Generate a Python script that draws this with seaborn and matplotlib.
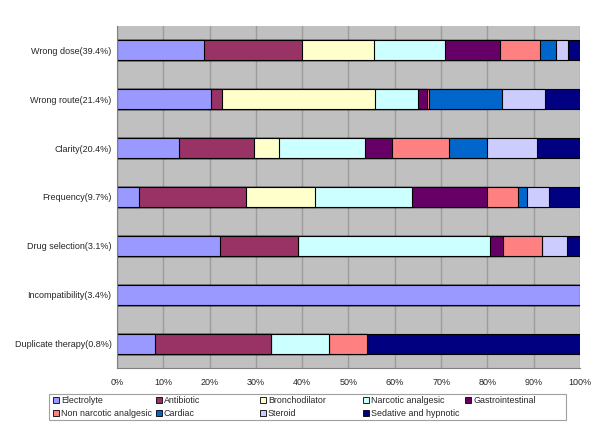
import matplotlib
matplotlib.use("Agg")
import matplotlib.pyplot as plt
import seaborn as sns
import pandas as pd
import numpy as np
from matplotlib.ticker import FixedLocator, FuncFormatter
from matplotlib.patches import Patch, Rectangle

categories = ["Wrong dose(39.4%)", "Wrong route(21.4%)", "Clarity(20.4%)",
              "Frequency(9.7%)", "Drug selection(3.1%)", "Incompatibility(3.4%)",
              "Duplicate therapy(0.8%)"]
classes = ["Electrolyte", "Antibiotic", "Bronchodilator", "Narcotic analgesic",
           "Gastrointestinal", "Non narcotic analgesic", "Cardiac", "Steroid",
           "Sedative and hypnotic"]

electrolyte = [18.8, 20.2, 13.4, 4.8, 22.2, 100, 8.3]
antibiotic = [21.1, 2.4, 16.2, 23.0, 16.8, 0, 25.0]
bronchodilator = [15.5, 33.1, 5.4, 14.9, 0, 0, 0]
narcotic = [15.5, 9.3, 18.6, 21.0, 41.6, 0, 12.5]
gastro = [11.9, 1.9, 5.9, 16.3, 2.8, 0, 0]
non_narcotic = [8.5, 0.5, 12.1, 6.6, 8.3, 0, 8.3]
cardiac = [3.6, 15.8, 8.4, 2.0, 0, 0, 0]
steroid = [2.6, 9.2, 10.7, 4.7, 5.6, 0, 0]
sedative = [2.5, 7.6, 9.3, 6.7, 2.7, 0, 45.9]

colors = ["#9999FF", "#993366", "#FFFFCC", "#CCFFFF", "#660066",
          "#FF8080", "#0066CC", "#CCCCFF", "#000080"]

series = [electrolyte, antibiotic, bronchodilator, narcotic, gastro,
          non_narcotic, cardiac, steroid, sedative]

df = pd.DataFrame(np.array(series).T, columns=classes)
df.insert(0, "Type", categories)
totals = df[classes].sum(axis=1).values
pct = df[classes].div(totals, axis=0) * 100
cum = pct.cumsum(axis=1)

sns.set_style("white")
plt.rcParams["font.family"] = ["Liberation Sans", "DejaVu Sans"]

fig = plt.figure(figsize=(6.0, 4.41), dpi=100)
ax = fig.add_axes([117 / 600, 1 - 368 / 441, (580 - 117) / 600, (368 - 26) / 441])
ax.set_facecolor("#C0C0C0")
fig.patch.set_facecolor("white")

for i in range(len(classes) - 1, -1, -1):
    d = pd.DataFrame({"Type": categories, "val": cum[classes[i]].values})
    sns.barplot(data=d, x="val", y="Type", orient="h", color=colors[i],
                width=0.41, edgecolor="black", linewidth=0.8, ax=ax,
                saturation=1, order=categories, zorder=3)

ax.set_xlim(0, 100)
ax.set_ylim(6.5, -0.5)
ax.xaxis.set_major_locator(FixedLocator(np.arange(0, 101, 10)))
ax.xaxis.set_major_formatter(FuncFormatter(lambda v, p: f"{int(round(v))}%"))
ax.grid(axis="x", color="#9C9C9C", linewidth=1.0, zorder=0)
ax.set_axisbelow(True)
ax.set_xlabel("")
ax.set_ylabel("")
ax.set_yticks(range(len(categories)))
ax.set_yticklabels(categories)
ax.set_yticks(np.arange(-0.5, 7.0, 1.0), minor=True)
ax.tick_params(axis="y", which="major", length=0, pad=4, labelsize=6.5)
ax.tick_params(axis="y", which="minor", length=4, color="#808080", width=0.8)
ax.tick_params(axis="x", which="major", length=4, color="#808080", width=0.8,
               labelsize=6.5, pad=3)
for s in ["top", "right"]:
    ax.spines[s].set_visible(False)
for s in ["left", "bottom"]:
    ax.spines[s].set_color("#808080")
    ax.spines[s].set_linewidth(0.8)
    ax.spines[s].set_zorder(4)

# Legend: frame + five columns laid out like the original
fig.add_artist(Rectangle((49 / 600, 1 - 420 / 441), 517 / 600, 26 / 441,
                         transform=fig.transFigure, facecolor="white",
                         edgecolor="#A0A0A0", linewidth=0.8))
col_x = [53, 156, 260, 363, 465]
col_items = [[0, 5], [1, 6], [2, 7], [3, 8], [4]]
for x, items in zip(col_x, col_items):
    handles = [Patch(facecolor=colors[k], edgecolor="black", linewidth=0.6,
                     label=classes[k]) for k in items]
    fig.legend(handles=handles, loc="upper left",
               bbox_to_anchor=(x / 600, 1 - 396 / 441), ncol=1,
               fontsize=6.4, frameon=False,
               handlelength=0.7, handleheight=0.7, handletextpad=0.2,
               borderpad=0, labelspacing=0.45, borderaxespad=0)

fig.savefig("out.png", dpi=100, facecolor="white")
